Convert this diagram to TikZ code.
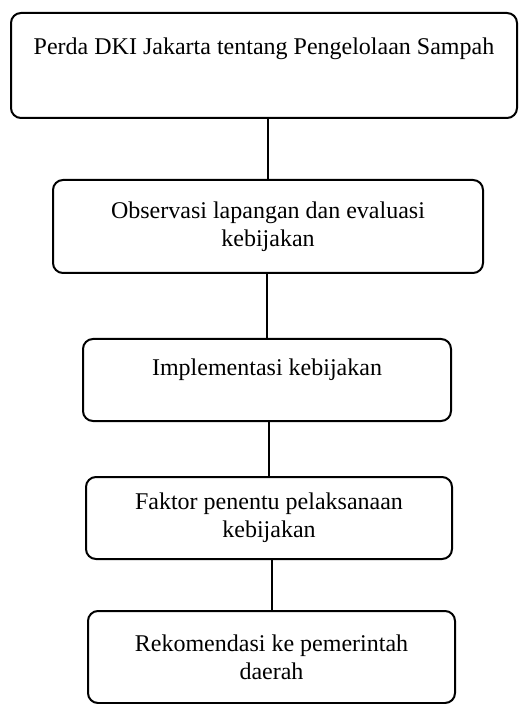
\documentclass[tikz,border=0pt]{standalone}
\usepackage{fontspec}
\setmainfont{Liberation Serif}
\begin{document}
\begin{tikzpicture}[x=0.5pt,y=-0.5pt,
	kotak/.style={draw, line width=1pt, rounded corners=5pt, align=center, inner sep=0pt, font=\fontsize{12pt}{14pt}\selectfont},
	garis/.style={line width=1pt}]
	\useasboundingbox (0,0) rectangle (518,704);

	\node[kotak, minimum width=253pt, text height=21pt, text depth=31.5pt] at (264,65.5) (perda) {Perda DKI Jakarta tentang Pengelolaan Sampah};
	\node[kotak, minimum width=215pt, minimum height=46.5pt] at (268,226.5) (observasi) {Observasi lapangan dan evaluasi\\kebijakan};
	\node[kotak, minimum width=184pt, text height=18pt, text depth=23pt] at (267,380) (implementasi) {Implementasi kebijakan};
	\node[kotak, minimum width=183pt, minimum height=41pt] at (269,518) (faktor) {Faktor penentu pelaksanaan\\kebijakan};
	\node[kotak, minimum width=183.5pt, minimum height=46pt] at (271.5,657) (rekomendasi) {Rekomendasi ke pemerintah\\daerah};

	\draw[garis] (observasi.north) -- (observasi.north |- perda.south);
	\draw[garis] (implementasi.north) -- (implementasi.north |- observasi.south);
	\draw[garis] (faktor.north) -- (faktor.north |- implementasi.south);
	\draw[garis] (rekomendasi.north) -- (rekomendasi.north |- faktor.south);
\end{tikzpicture}
\end{document}
